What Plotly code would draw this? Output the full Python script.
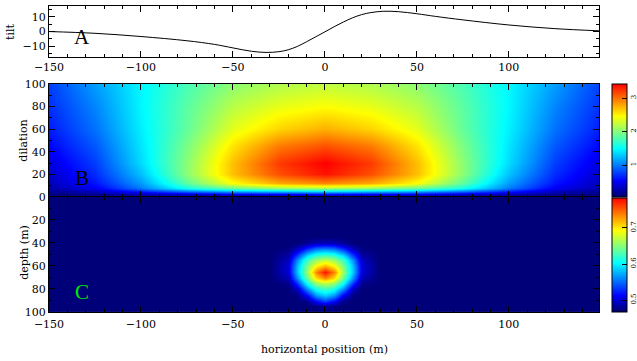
import plotly.graph_objects as go

# ---------------- data ----------------
# Panel A: tilt profile
tilt_x = [-150, -125, -100, -75, -60, -50, -40, -32, -25, -20, -15, -10, -5, 0,
          5, 10, 15, 20, 25, 32, 40, 50, 60, 75, 100, 125, 149]
tilt_y = [0.0, -1.2, -3.4, -6.3, -8.8, -11.2, -13.5, -14.3, -13.8, -12.5, -10.2, -7.0, -3.6, -0.2,
          3.3, 6.5, 9.4, 11.6, 13.0, 13.9, 13.6, 12.2, 10.4, 8.0, 4.5, 2.0, 0.5]

# Panel B: dilation field
dil_x = [-150, -125, -100, -75, -50, -25, 0, 25, 50, 75, 100, 125, 150]
dil_y = [0, 2.5, 5, 8, 12, 20, 30, 45, 60, 80, 100]
dil_z = [
    [0.12, 0.12, 0.12, 0.12, 0.12, 0.12, 0.12, 0.12, 0.12, 0.12, 0.12, 0.12, 0.12],
    [0.12, 0.18, 0.29, 0.39, 0.49, 0.52, 0.56, 0.52, 0.49, 0.39, 0.29, 0.18, 0.12],
    [0.18, 0.32, 0.66, 0.99, 1.23, 1.33, 1.40, 1.33, 1.23, 0.99, 0.66, 0.32, 0.18],
    [0.25, 0.49, 0.99, 1.57, 1.90, 2.07, 2.14, 2.07, 1.90, 1.57, 0.99, 0.49, 0.25],
    [0.30, 0.60, 1.12, 1.85, 2.45, 2.78, 2.91, 2.78, 2.45, 1.85, 1.12, 0.60, 0.30],
    [0.36, 0.69, 1.26, 2.02, 2.70, 3.12, 3.35, 3.12, 2.70, 2.02, 1.26, 0.69, 0.36],
    [0.42, 0.76, 1.36, 2.02, 2.70, 3.20, 3.42, 3.20, 2.70, 2.02, 1.36, 0.76, 0.42],
    [0.53, 0.86, 1.40, 1.96, 2.56, 2.96, 3.12, 2.96, 2.56, 1.96, 1.40, 0.86, 0.53],
    [0.63, 0.96, 1.44, 1.87, 2.36, 2.62, 2.76, 2.62, 2.36, 1.87, 1.44, 0.96, 0.63],
    [0.70, 1.03, 1.47, 1.84, 2.20, 2.38, 2.46, 2.38, 2.20, 1.84, 1.47, 1.03, 0.70],
    [0.77, 1.13, 1.47, 1.77, 2.03, 2.16, 2.22, 2.16, 2.03, 1.77, 1.47, 1.13, 0.77],
]

# Panel C: source strength vs depth
src_x = [-150, -30, -20, -15, -10, -5, 0, 5, 10, 15, 20, 30, 150]
src_depth = [0, 35, 40, 45, 50, 55, 60, 65, 70, 75, 80, 85, 90, 95, 100]
src_z = [
    [0.470, 0.470, 0.470, 0.470, 0.470, 0.470, 0.470, 0.470, 0.470, 0.470, 0.470, 0.470, 0.470],
    [0.470, 0.470, 0.470, 0.470, 0.470, 0.470, 0.470, 0.470, 0.470, 0.470, 0.470, 0.470, 0.470],
    [0.470, 0.470, 0.470, 0.470, 0.480, 0.489, 0.492, 0.489, 0.480, 0.470, 0.470, 0.470, 0.470],
    [0.470, 0.470, 0.473, 0.492, 0.530, 0.555, 0.562, 0.555, 0.530, 0.492, 0.473, 0.470, 0.470],
    [0.470, 0.470, 0.483, 0.530, 0.587, 0.616, 0.625, 0.616, 0.587, 0.530, 0.483, 0.470, 0.470],
    [0.470, 0.470, 0.492, 0.562, 0.625, 0.657, 0.672, 0.657, 0.625, 0.562, 0.492, 0.470, 0.470],
    [0.470, 0.470, 0.499, 0.578, 0.647, 0.695, 0.720, 0.695, 0.647, 0.578, 0.499, 0.470, 0.470],
    [0.470, 0.470, 0.499, 0.581, 0.657, 0.736, 0.777, 0.736, 0.657, 0.581, 0.499, 0.470, 0.470],
    [0.470, 0.470, 0.489, 0.562, 0.641, 0.704, 0.736, 0.704, 0.641, 0.562, 0.489, 0.470, 0.470],
    [0.470, 0.470, 0.476, 0.530, 0.609, 0.657, 0.672, 0.657, 0.609, 0.530, 0.476, 0.470, 0.470],
    [0.470, 0.470, 0.470, 0.492, 0.562, 0.609, 0.625, 0.609, 0.562, 0.492, 0.470, 0.470, 0.470],
    [0.470, 0.470, 0.470, 0.473, 0.514, 0.568, 0.587, 0.568, 0.514, 0.473, 0.470, 0.470, 0.470],
    [0.470, 0.470, 0.470, 0.470, 0.476, 0.514, 0.537, 0.514, 0.476, 0.470, 0.470, 0.470, 0.470],
    [0.470, 0.470, 0.470, 0.470, 0.470, 0.473, 0.483, 0.473, 0.470, 0.470, 0.470, 0.470, 0.470],
    [0.470, 0.470, 0.470, 0.470, 0.470, 0.470, 0.470, 0.470, 0.470, 0.470, 0.470, 0.470, 0.470],
]

x_ticks = [-150, -100, -50, 0, 50, 100]
x_ticklabels = ["\u2212150", "\u2212100", "\u221250", "0", "50", "100"]
tilt_ticks = [-10, 0, 10]
tilt_ticklabels = ["\u221210", "0", "10"]
dil_ticks = [0, 20, 40, 60, 80, 100]
depth_ticks = [20, 40, 60, 80, 100]
cb1_ticks = [1, 2, 3]
cb2_ticks = [0.5, 0.6, 0.7]

# ---------------- styling ----------------
FONT = "DejaVu Serif"
LETTER_FONT = "Liberation Serif"
jet = [[0.0, "rgb(0,0,110)"], [0.143, "rgb(0,0,255)"], [0.4286, "rgb(0,255,255)"],
       [0.714, "rgb(255,255,0)"], [1.0, "rgb(255,0,0)"]]

fig = go.Figure()

fig.add_trace(go.Scatter(x=tilt_x, y=tilt_y, mode="lines", line=dict(color="black", width=1, shape="spline"),
                         xaxis="x", yaxis="y", showlegend=False))

cb_common = dict(x=1.0236, xanchor="left", lenmode="fraction", thickness=15, outlinecolor="black",
                 outlinewidth=1, ticks="inside", ticklen=5, tickcolor="black", tickangle=-90,
                 tickfont=dict(family=FONT, size=7, color="black"), ypad=0, xpad=0)

fig.add_trace(go.Heatmap(x=dil_x, y=dil_y, z=dil_z, colorscale=jet, zmin=0.05, zmax=3.42, zsmooth="best",
                         xaxis="x2", yaxis="y2",
                         colorbar=dict(cb_common, y=0.376, yanchor="bottom", len=0.369, tickvals=cb1_ticks)))

fig.add_trace(go.Heatmap(x=src_x, y=src_depth, z=src_z, colorscale=jet, zmin=0.467, zmax=0.783, zsmooth="best",
                         xaxis="x3", yaxis="y3",
                         colorbar=dict(cb_common, y=0.0, yanchor="bottom", len=0.373, tickvals=cb2_ticks)))

axcommon = dict(showline=True, linecolor="black", linewidth=1, mirror="ticks", ticks="inside",
                tickcolor="black", showgrid=False, zeroline=False,
                tickfont=dict(family=FONT, size=11, color="black"))
minor_x = dict(dtick=10, tick0=0, ticklen=3, ticks="inside", tickcolor="black")
minor_y = dict(dtick=10, ticklen=3, ticks="inside", tickcolor="black")

xr = [-150, 149]
fig.update_layout(
    width=637, height=361, margin=dict(l=49, r=38, t=6, b=49, autoexpand=False),
    paper_bgcolor="white", plot_bgcolor="white",
    font=dict(family=FONT, color="black"),
    xaxis=dict(axcommon, domain=[0, 1], range=xr, anchor="y", tickvals=x_ticks, ticktext=x_ticklabels,
               ticklen=6, minor=minor_x),
    yaxis=dict(axcommon, domain=[0.833, 1.0], range=[-17.5, 17.5], anchor="x", tickvals=tilt_ticks,
               ticktext=tilt_ticklabels, ticklen=6, minor=dict(dtick=5, ticklen=3, ticks="inside", tickcolor="black")),
    xaxis2=dict(axcommon, domain=[0, 1], range=xr, anchor="y2", tickvals=x_ticks, showticklabels=False,
                ticklen=6, minor=minor_x),
    yaxis2=dict(axcommon, domain=[0.376, 0.745], range=[0, 100], anchor="x2", tickvals=dil_ticks, ticklen=6,
                minor=minor_y),
    xaxis3=dict(axcommon, domain=[0, 1], range=xr, anchor="y3", tickvals=x_ticks, ticktext=x_ticklabels,
                ticklen=6, minor=minor_x, ticklabelstandoff=2),
    yaxis3=dict(axcommon, domain=[0, 0.376], range=[100, 0], anchor="x3", tickvals=depth_ticks, ticklen=6,
                minor=minor_y),
)

ann_font = dict(family=FONT, size=11, color="black")
fig.add_annotation(text="tilt", xref="paper", yref="paper", x=-0.071, y=0.915, textangle=-90,
                   showarrow=False, font=ann_font, xanchor="center", yanchor="middle")
fig.add_annotation(text="dilation", xref="paper", yref="paper", x=-0.046, y=0.559, textangle=-90,
                   showarrow=False, font=ann_font, xanchor="center", yanchor="middle")
fig.add_annotation(text="depth (m)", xref="paper", yref="paper", x=-0.046, y=0.196, textangle=-90,
                   showarrow=False, font=ann_font, xanchor="center", yanchor="middle")
fig.add_annotation(text="horizontal position (m)", xref="paper", yref="paper", x=0.5, y=-0.121,
                   showarrow=False, font=ann_font, xanchor="center", yanchor="middle")

letter_font = dict(family=LETTER_FONT, size=21)
fig.add_annotation(text="A", x=-132, y=-4, xref="x", yref="y", showarrow=False,
                   font=dict(letter_font, color="black"))
fig.add_annotation(text="B", x=-132, y=17, xref="x2", yref="y2", showarrow=False,
                   font=dict(letter_font, color="black"))
fig.add_annotation(text="C", x=-132, y=83, xref="x3", yref="y3", showarrow=False,
                   font=dict(letter_font, color="rgb(0,230,0)"))

fig.write_html("out.html")
